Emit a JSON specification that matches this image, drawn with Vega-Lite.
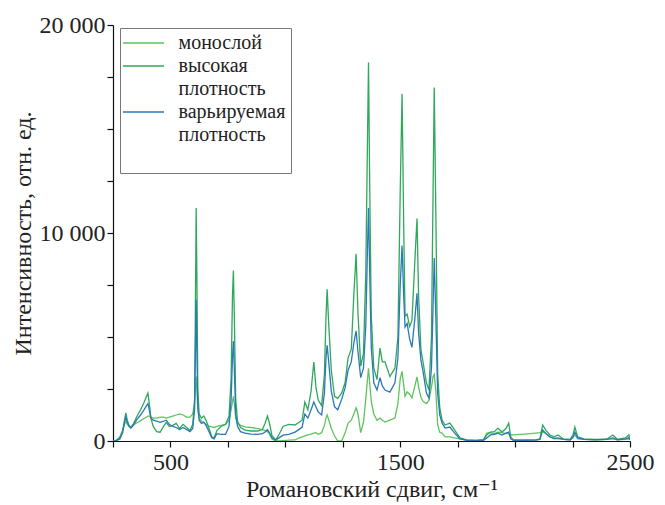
{
  "$schema": "https://vega.github.io/schema/vega-lite/v6.json",
  "autosize": {"type": "none"},
  "width": 517,
  "height": 416,
  "padding": {"left": 113, "top": 25, "right": 35, "bottom": 64},
  "background": "white",
  "config": {
    "font": "Liberation Serif, DejaVu Serif, serif",
    "view": {"stroke": null},
    "style": {"guide-label": {"lineHeight": 23}},
    "axis": {"grid": false, "domainColor": "#111", "tickColor": "#111", "labelColor": "#222", "titleColor": "#222", "labelFont": "Liberation Serif, DejaVu Serif, serif", "titleFont": "Liberation Serif, DejaVu Serif, serif", "labelFontSize": 24, "titleFontSize": 24, "titleFontWeight": "normal", "tickSize": 6, "domainWidth": 1.2, "tickWidth": 1.2}
  },
  "data": {"values": [
    {"x":250,"монослой":0,"высокая плотность":0,"варьируемая плотность":0},
    {"x":265,"монослой":40,"высокая плотность":30,"варьируемая плотность":20},
    {"x":280,"монослой":200,"высокая плотность":150,"варьируемая плотность":100},
    {"x":292,"монослой":500,"высокая плотность":500,"варьируемая плотность":400},
    {"x":300,"монослой":800,"высокая плотность":1000,"варьируемая плотность":900},
    {"x":306,"монослой":950,"высокая плотность":1350,"варьируемая плотность":1150},
    {"x":312,"монослой":800,"высокая плотность":1000,"варьируемая плотность":900},
    {"x":320,"монослой":700,"высокая плотность":750,"варьируемая плотность":700},
    {"x":328,"монослой":650,"высокая плотность":650,"варьируемая плотность":620},
    {"x":340,"монослой":780,"высокая плотность":850,"варьируемая плотность":780},
    {"x":355,"монослой":880,"высокая плотность":1200,"варьируемая плотность":1050},
    {"x":370,"монослой":980,"высокая плотность":1500,"варьируемая плотность":1250},
    {"x":385,"монослой":1080,"высокая плотность":1850,"варьируемая плотность":1500},
    {"x":396,"монослой":1150,"высокая плотность":2150,"варьируемая плотность":1700},
    {"x":402,"монослой":1200,"высокая плотность":2300,"варьируемая плотность":1800},
    {"x":408,"монослой":1200,"высокая плотность":1800,"варьируемая плотность":1500},
    {"x":415,"монослой":1150,"высокая плотность":1100,"варьируемая плотность":1100},
    {"x":425,"монослой":1100,"высокая плотность":700,"варьируемая плотность":1000},
    {"x":440,"монослой":1100,"высокая плотность":450,"варьируемая плотность":950},
    {"x":455,"монослой":1150,"высокая плотность":420,"варьируемая плотность":900},
    {"x":470,"монослой":1150,"высокая плотность":700,"варьируемая плотность":950},
    {"x":482,"монослой":1100,"высокая плотность":900,"варьируемая плотность":1000},
    {"x":495,"монослой":1150,"высокая плотность":700,"варьируемая плотность":800},
    {"x":510,"монослой":1200,"высокая плотность":750,"варьируемая плотность":700},
    {"x":525,"монослой":1250,"высокая плотность":850,"варьируемая плотность":650},
    {"x":540,"монослой":1300,"высокая плотность":600,"варьируемая плотность":550},
    {"x":555,"монослой":1250,"высокая плотность":800,"варьируемая плотность":650},
    {"x":570,"монослой":1150,"высокая плотность":650,"варьируемая плотность":550},
    {"x":585,"монослой":1150,"высокая плотность":500,"варьируемая плотность":450},
    {"x":597,"монослой":1300,"высокая плотность":800,"варьируемая плотность":600},
    {"x":605,"монослой":1800,"высокая плотность":2000,"варьируемая плотность":1500},
    {"x":609,"монослой":2600,"высокая плотность":7000,"варьируемая плотность":4500},
    {"x":612,"монослой":3100,"высокая плотность":11200,"варьируемая плотность":6800},
    {"x":615,"монослой":2400,"высокая плотность":8000,"варьируемая плотность":4500},
    {"x":619,"монослой":1500,"высокая плотность":2500,"варьируемая плотность":1700},
    {"x":625,"монослой":1100,"высокая плотность":1300,"варьируемая плотность":1000},
    {"x":635,"монослой":950,"высокая плотность":1100,"варьируемая плотность":850},
    {"x":645,"монослой":900,"высокая плотность":1200,"варьируемая плотность":900},
    {"x":655,"монослой":800,"высокая плотность":1000,"варьируемая плотность":750},
    {"x":668,"монослой":720,"высокая плотность":600,"варьируемая плотность":450},
    {"x":680,"монослой":680,"высокая плотность":200,"варьируемая плотность":150},
    {"x":690,"монослой":650,"высокая плотность":150,"варьируемая плотность":100},
    {"x":702,"монослой":700,"высокая плотность":500,"варьируемая плотность":350},
    {"x":720,"монослой":750,"высокая плотность":700,"варьируемая плотность":320},
    {"x":740,"монослой":800,"высокая плотность":800,"варьируемая плотность":320},
    {"x":755,"монослой":1000,"высокая плотность":1200,"варьируемая плотность":700},
    {"x":764,"монослой":1500,"высокая плотность":3000,"варьируемая плотность":2000},
    {"x":770,"монослой":1900,"высокая плотность":7000,"варьируемая плотность":4000},
    {"x":774,"монослой":2150,"высокая плотность":8200,"варьируемая плотность":4800},
    {"x":778,"монослой":1800,"высокая плотность":6000,"варьируемая плотность":3500},
    {"x":784,"монослой":1100,"высокая плотность":2000,"варьируемая плотность":1300},
    {"x":792,"монослой":850,"высокая плотность":950,"варьируемая плотность":700},
    {"x":805,"монослой":750,"высокая плотность":650,"варьируемая плотность":450},
    {"x":825,"монослой":680,"высокая плотность":520,"варьируемая плотность":380},
    {"x":850,"монослой":650,"высокая плотность":480,"варьируемая плотность":330},
    {"x":880,"монослой":600,"высокая плотность":480,"варьируемая плотность":320},
    {"x":900,"монослой":550,"высокая плотность":550,"варьируемая плотность":350},
    {"x":912,"монослой":500,"высокая плотность":850,"варьируемая плотность":430},
    {"x":922,"монослой":450,"высокая плотность":1200,"варьируемая плотность":550},
    {"x":930,"монослой":350,"высокая плотность":900,"варьируемая плотность":420},
    {"x":942,"монослой":100,"высокая плотность":250,"варьируемая плотность":150},
    {"x":958,"монослой":0,"высокая плотность":50,"варьируемая плотность":50},
    {"x":972,"монослой":0,"высокая плотность":300,"варьируемая плотность":150},
    {"x":990,"монослой":20,"высокая плотность":700,"варьируемая плотность":280},
    {"x":1015,"монослой":40,"высокая плотность":800,"варьируемая плотность":320},
    {"x":1042,"монослой":50,"высокая плотность":770,"варьируемая плотность":430},
    {"x":1060,"монослой":150,"высокая плотность":900,"варьируемая плотность":560},
    {"x":1073,"монослой":200,"высокая плотность":1000,"варьируемая плотность":670},
    {"x":1085,"монослой":250,"высокая плотность":1870,"варьируемая плотность":1300},
    {"x":1098,"монослой":290,"высокая плотность":1500,"варьируемая плотность":1100},
    {"x":1112,"монослой":330,"высокая плотность":2400,"варьируемая плотность":1500},
    {"x":1124,"монослой":380,"высокая плотность":3800,"варьируемая плотность":1870},
    {"x":1133,"монослой":400,"высокая плотность":2600,"варьируемая плотность":1650},
    {"x":1143,"монослой":320,"высокая плотность":1970,"варьируемая плотность":1400},
    {"x":1158,"монослой":400,"высокая плотность":1700,"варьируемая плотность":1250},
    {"x":1170,"монослой":750,"высокая плотность":3200,"варьируемая плотность":2300},
    {"x":1177,"монослой":1100,"высокая плотность":6000,"варьируемая плотность":4000},
    {"x":1182,"монослой":1250,"высокая плотность":7300,"варьируемая плотность":4600},
    {"x":1188,"монослой":1050,"высокая плотность":5800,"варьируемая плотность":3900},
    {"x":1200,"монослой":600,"высокая плотность":3400,"варьируемая плотность":2400},
    {"x":1214,"монослой":250,"высокая плотность":2150,"варьируемая плотность":1650},
    {"x":1228,"монослой":0,"высокая плотность":2050,"варьируемая плотность":1500},
    {"x":1245,"монослой":0,"высокая плотность":2300,"варьируемая плотность":2000},
    {"x":1260,"монослой":380,"высокая плотность":2800,"варьируемая плотность":2550},
    {"x":1273,"монослой":860,"высокая плотность":4000,"варьируемая плотность":3400},
    {"x":1287,"монослой":1000,"высокая плотность":4400,"варьируемая плотность":3800},
    {"x":1298,"монослой":1300,"высокая плотность":7000,"варьируемая плотность":4700},
    {"x":1308,"монослой":1600,"высокая плотность":9000,"варьируемая плотность":5300},
    {"x":1316,"монослой":1300,"высокая плотность":6200,"варьируемая плотность":4300},
    {"x":1328,"монослой":400,"высокая плотность":3600,"варьируемая плотность":3050},
    {"x":1340,"монослой":900,"высокая плотность":4200,"варьируемая плотность":3500},
    {"x":1350,"монослой":2000,"высокая плотность":8000,"варьируемая плотность":5500},
    {"x":1357,"монослой":2900,"высокая плотность":14000,"варьируемая плотность":9000},
    {"x":1362,"монослой":3500,"высокая плотность":18200,"варьируемая плотность":11200},
    {"x":1367,"монослой":2800,"высокая плотность":12500,"варьируемая плотность":8200},
    {"x":1374,"монослой":1900,"высокая плотность":6000,"варьируемая плотность":4500},
    {"x":1385,"монослой":1300,"высокая плотность":3500,"варьируемая плотность":2800},
    {"x":1399,"монослой":1000,"высокая плотность":2950,"варьируемая плотность":2450},
    {"x":1412,"монослой":1100,"высокая плотность":4470,"варьируемая плотность":3050},
    {"x":1422,"монослой":1000,"высокая плотность":3800,"варьируемая плотность":2650},
    {"x":1434,"монослой":910,"высокая плотность":3800,"варьируемая плотность":2450},
    {"x":1455,"монослой":1000,"высокая плотность":3100,"варьируемая плотность":2350},
    {"x":1477,"монослой":1100,"высокая плотность":3500,"варьируемая плотность":2800},
    {"x":1490,"монослой":1800,"высокая плотность":5000,"варьируемая плотность":4000},
    {"x":1500,"монослой":3000,"высокая плотность":12000,"варьируемая плотность":7500},
    {"x":1508,"монослой":3350,"высокая плотность":16700,"варьируемая плотность":9400},
    {"x":1515,"монослой":2700,"высокая плотность":10500,"варьируемая плотность":7000},
    {"x":1521,"монослой":2150,"высокая плотность":6000,"варьируемая плотность":5480},
    {"x":1530,"монослой":2360,"высокая плотность":6100,"варьируемая плотность":5650},
    {"x":1541,"монослой":2250,"высокая плотность":5500,"варьируемая плотность":4900},
    {"x":1551,"монослой":2070,"высокая плотность":5800,"варьируемая плотность":4500},
    {"x":1563,"монослой":2600,"высокая плотность":8500,"варьируемая плотность":5800},
    {"x":1573,"монослой":3080,"высокая плотность":10700,"варьируемая плотность":7100},
    {"x":1580,"монослой":2600,"высокая плотность":7000,"варьируемая плотность":5200},
    {"x":1590,"монослой":2100,"высокая плотность":4400,"варьируемая плотность":3900},
    {"x":1600,"монослой":1900,"высокая плотность":3750,"варьируемая плотность":3300},
    {"x":1614,"монослой":1800,"высокая плотность":2800,"варьируемая плотность":2300},
    {"x":1625,"монослой":1950,"высокая плотность":2450,"варьируемая плотность":2070},
    {"x":1636,"монослой":2600,"высокая плотность":5000,"варьируемая плотность":3500},
    {"x":1643,"монослой":3100,"высокая плотность":12000,"варьируемая плотность":6500},
    {"x":1648,"монослой":3200,"высокая плотность":17000,"варьируемая плотность":8800},
    {"x":1655,"монослой":2400,"высокая плотность":11000,"варьируемая плотность":6000},
    {"x":1663,"монослой":800,"высокая плотность":3200,"варьируемая плотность":2300},
    {"x":1672,"монослой":420,"высокая плотность":1600,"варьируемая плотность":1250},
    {"x":1682,"монослой":380,"высокая плотность":1000,"варьируемая плотность":860},
    {"x":1695,"монослой":200,"высокая плотность":770,"варьируемая плотность":620},
    {"x":1716,"монослой":200,"высокая плотность":860,"варьируемая плотность":670},
    {"x":1735,"монослой":150,"высокая плотность":560,"варьируемая плотность":400},
    {"x":1760,"монослой":100,"высокая плотность":150,"варьируемая плотность":100},
    {"x":1790,"монослой":50,"высокая плотность":50,"варьируемая плотность":30},
    {"x":1830,"монослой":30,"высокая плотность":30,"варьируемая плотность":20},
    {"x":1862,"монослой":60,"высокая плотность":60,"варьируемая плотность":30},
    {"x":1877,"монослой":380,"высокая плотность":300,"варьируемая плотность":150},
    {"x":1892,"монослой":400,"высокая плотность":430,"варьируемая плотность":290},
    {"x":1910,"монослой":350,"высокая плотность":450,"варьируемая плотность":320},
    {"x":1925,"монослой":420,"высокая плотность":620,"варьируемая плотность":380},
    {"x":1943,"монослой":400,"высокая плотность":430,"варьируемая плотность":290},
    {"x":1960,"монослой":350,"высокая плотность":600,"варьируемая плотность":380},
    {"x":1972,"монослой":350,"высокая плотность":860,"варьируемая плотность":430},
    {"x":1981,"монослой":300,"высокая плотность":200,"варьируемая плотность":100},
    {"x":1992,"монослой":290,"высокая плотность":50,"варьируемая плотность":30},
    {"x":2040,"монослой":330,"высокая плотность":50,"варьируемая плотность":30},
    {"x":2090,"монослой":380,"высокая плотность":50,"варьируемая плотность":40},
    {"x":2108,"монослой":400,"высокая плотность":100,"варьируемая плотность":80},
    {"x":2120,"монослой":450,"высокая плотность":770,"варьируемая плотность":530},
    {"x":2135,"монослой":350,"высокая плотность":500,"варьируемая плотность":350},
    {"x":2152,"монослой":200,"высокая плотность":290,"варьируемая плотность":200},
    {"x":2170,"монослой":120,"высокая плотность":200,"варьируемая плотность":120},
    {"x":2187,"монослой":100,"высокая плотность":290,"варьируемая плотность":150},
    {"x":2210,"монослой":80,"высокая плотность":100,"варьируемая плотность":80},
    {"x":2240,"монослой":70,"высокая плотность":80,"варьируемая плотность":50},
    {"x":2252,"монослой":150,"высокая плотность":300,"варьируемая плотность":200},
    {"x":2260,"монослой":300,"высокая плотность":670,"варьируемая плотность":430},
    {"x":2272,"монослой":100,"высокая плотность":200,"варьируемая плотность":150},
    {"x":2300,"монослой":80,"высокая плотность":100,"варьируемая плотность":80},
    {"x":2350,"монослой":60,"высокая плотность":80,"варьируемая плотность":60},
    {"x":2400,"монослой":80,"высокая плотность":100,"варьируемая плотность":80},
    {"x":2425,"монослой":100,"высокая плотность":290,"варьируемая плотность":150},
    {"x":2445,"монослой":60,"высокая плотность":80,"варьируемая плотность":60},
    {"x":2480,"монослой":80,"высокая плотность":150,"варьируемая плотность":100},
    {"x":2495,"монослой":100,"высокая плотность":290,"варьируемая плотность":150},
    {"x":2500,"монослой":60,"высокая плотность":100,"варьируемая плотность":60}
  ]},
  "transform": [
    {"fold": ["монослой", "высокая плотность", "варьируемая плотность"], "as": ["series", "intensity"]}
  ],
  "mark": {"type": "line", "strokeWidth": 1.3, "clip": true, "interpolate": "linear"},
  "encoding": {
    "x": {"field": "x", "type": "quantitative",
      "scale": {"domain": [250, 2500], "nice": false, "zero": false},
      "axis": {"title": "Романовский сдвиг, см⁻¹", "values": [250,500,750,1000,1250,1500,1750,2000,2250,2500],
        "labelExpr": "datum.value == 500 || datum.value == 1500 || datum.value == 2500 ? format(datum.value, 'd') : ''",
        "labelPadding": 3, "titlePadding": 3, "labelFlush": false}},
    "y": {"field": "intensity", "type": "quantitative",
      "scale": {"domain": [0, 20000], "nice": false},
      "axis": {"title": "Интенсивность, отн. ед.", "values": [0,2500,5000,7500,10000,12500,15000,17500,20000],
        "labelExpr": "datum.value == 20000 ? '20 000' : datum.value == 10000 ? '10 000' : datum.value == 0 ? '0' : ''",
        "labelPadding": 2, "titlePadding": 4}},
    "color": {"field": "series", "type": "nominal",
      "scale": {"domain": ["монослой", "высокая плотность", "варьируемая плотность"], "range": ["#5ec45e", "#2fa85a", "#2a78b8"]},
      "legend": {"title": null, "orient": "none", "legendX": 7, "legendY": 3,
        "symbolType": "M-4.56,0H4.56", "symbolSize": 81, "symbolStrokeWidth": 1.5, "symbolOffset": 8.5,
        "labelFontSize": 20, "labelFont": "Liberation Serif, DejaVu Serif, serif", "labelColor": "#222", "labelOffset": 25,
        "labelExpr": "datum.label == 'высокая плотность' ? ['высокая', 'плотность'] : datum.label == 'варьируемая плотность' ? ['варьируемая', 'плотность', ''] : datum.label",
        "labelLimit": 300, "strokeColor": "#777", "fillColor": "white", "padding": 5, "rowPadding": 3, "labelBaseline": "middle"}},
    "order": {"field": "series"}
  }
}
